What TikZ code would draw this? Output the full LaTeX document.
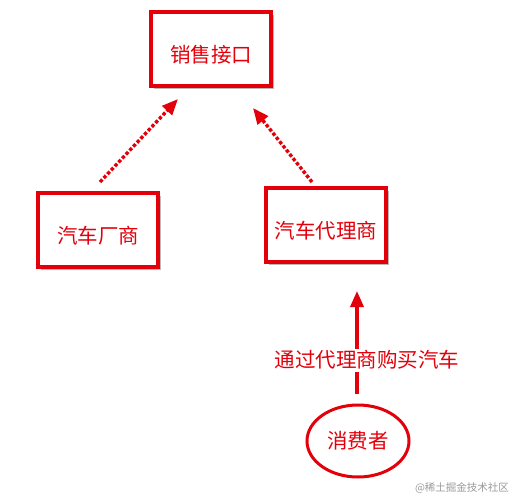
\documentclass[tikz,border=0pt]{standalone}
\usepackage{fontspec}
\newfontfamily\cjk{Noto Sans CJK SC}
\usetikzlibrary{arrows.meta,shadows,shapes.geometric}
\definecolor{myred}{HTML}{E3000B}
\newcommand{\lowtext}[1]{\rule{0pt}{28pt}#1}
\tikzset{
  box/.style={draw=myred, line width=3.4pt, minimum width=120pt, minimum height=74pt,
    fill=white, drop shadow={shadow xshift=2.5pt, shadow yshift=-2.5pt, opacity=0.5, fill=black!55},
    text=myred, font=\cjk\fontsize{20.5}{24}\selectfont},
  oval/.style={draw=myred, ellipse, line width=3pt, minimum width=102pt, minimum height=72pt,
    text=myred, font=\cjk\fontsize{20.5}{24}\selectfont},
  dotarrow/.style={myred, line width=3.4pt, dotted, -{Triangle[length=16pt,width=13pt]}},
  solidarrow/.style={myred, line width=3.4pt, -{Triangle[length=16pt,width=13pt]}},
  lbl/.style={fill=white, text=myred, font=\cjk\fontsize{20.5}{24}\selectfont, inner sep=2pt},
  wm/.style={text=black!40, font=\cjk\fontsize{10.5}{12}\selectfont}
}
\begin{document}
\begin{tikzpicture}[x=1pt,y=-1pt]
\useasboundingbox (0,0) rectangle (515,496);
\node[box] (api) at (211,49) {\lowtext{销售接口}};
\node[box] (maker) at (98,230) {\lowtext{汽车厂商}};
\node[box] (agent) at (326,225) {\lowtext{汽车代理商}};
\node[oval] (consumer) at (358,441) {消费者};
\coordinate (m0) at (100,182);
\coordinate (m1) at (178,99);
\coordinate (a0) at (312,182);
\coordinate (a1) at (253,108);
\coordinate (c0) at (357,394);
\coordinate (c1) at (357,291);
\draw[dotarrow] (m0) -- (m1);
\draw[dotarrow] (a0) -- (a1);
\draw[solidarrow] (c0) -- (c1);
\node[lbl] (buy) at (367,360) {通过代理商购买汽车};
\node[wm] (mark) at (462,488) {@稀土掘金技术社区};
\end{tikzpicture}
\end{document}
